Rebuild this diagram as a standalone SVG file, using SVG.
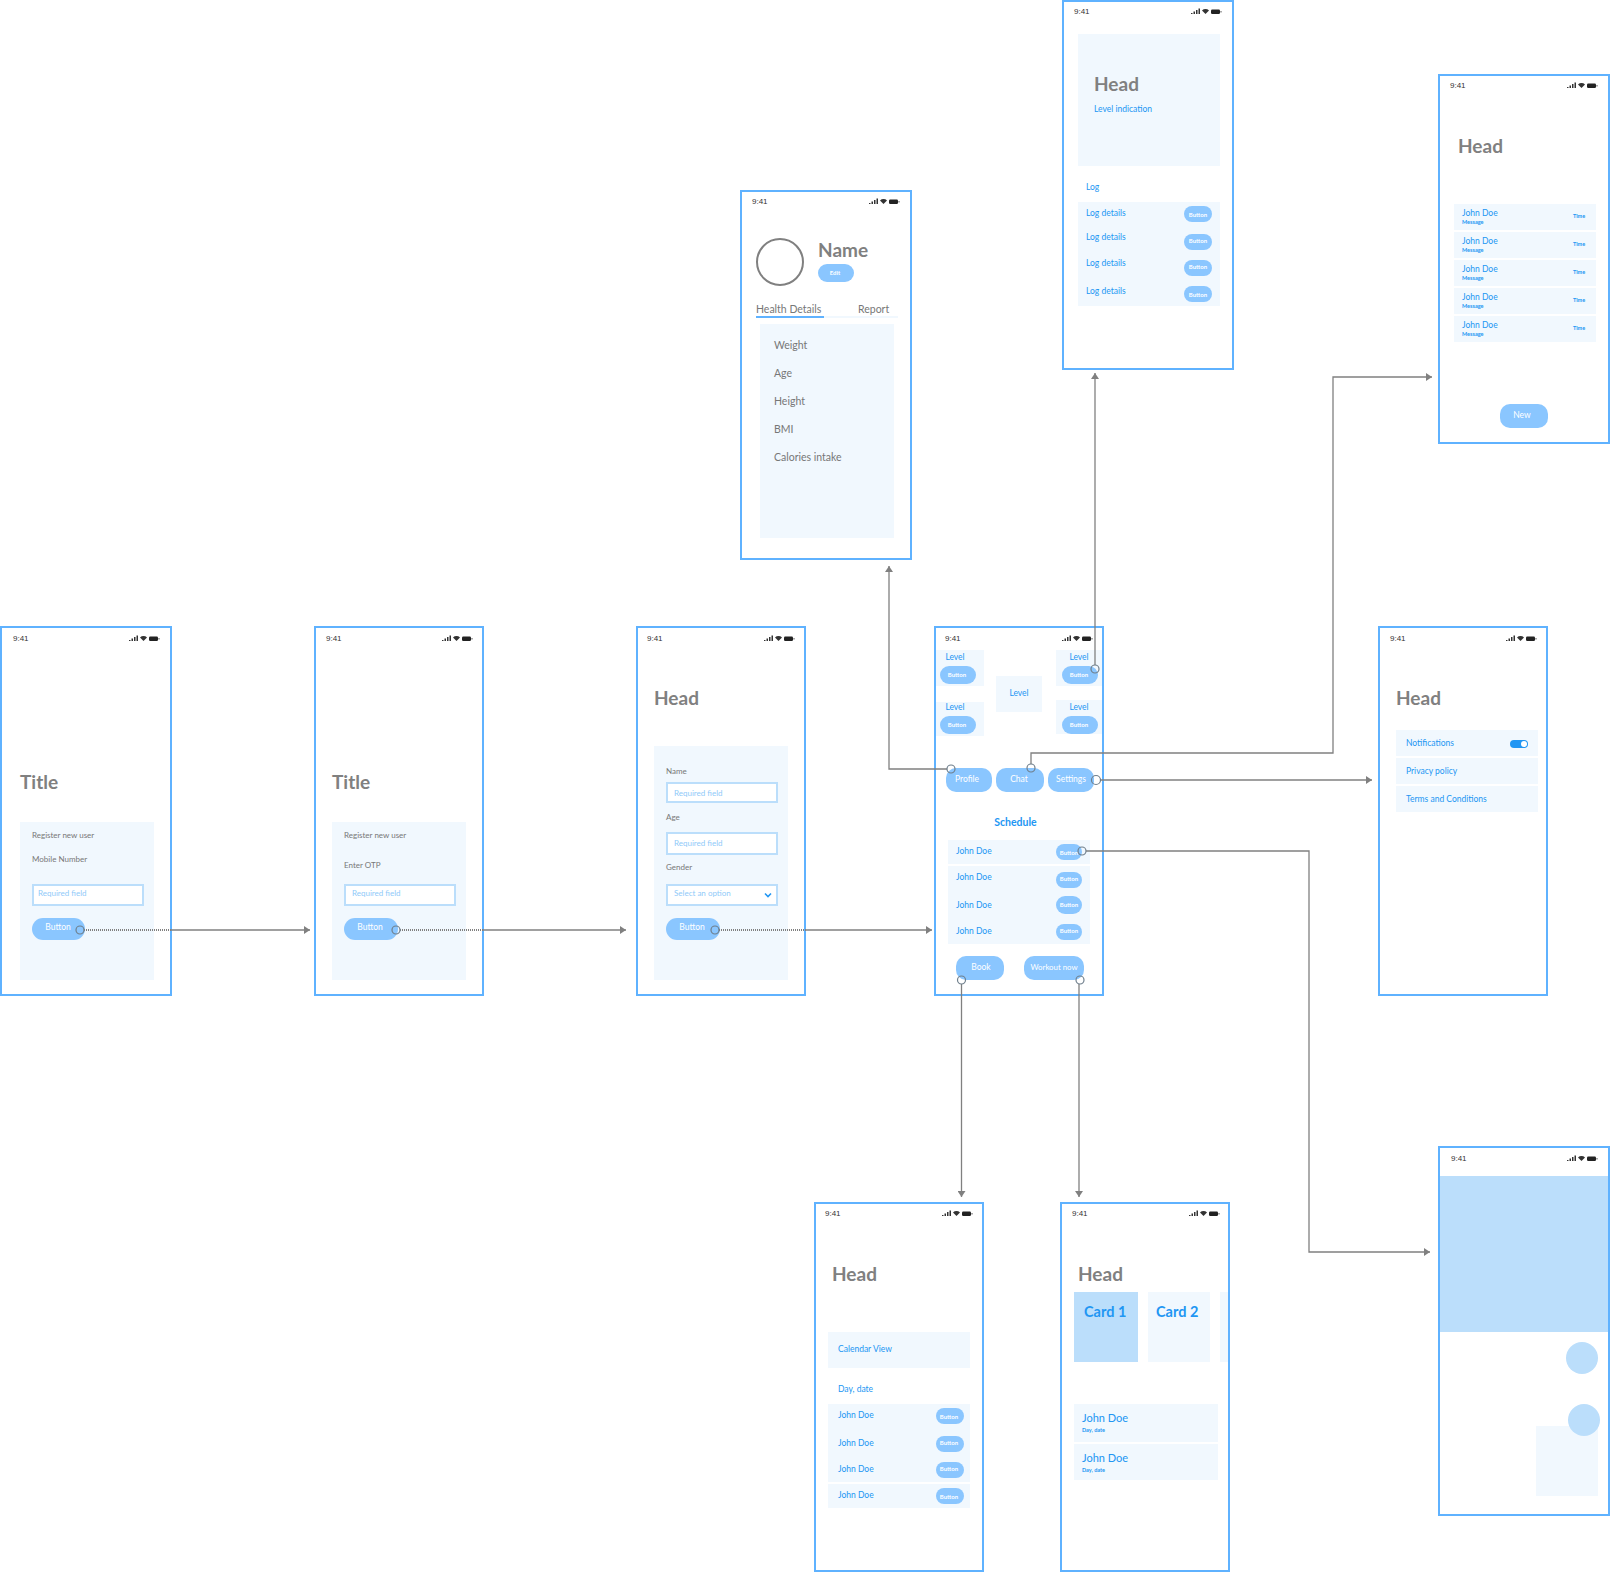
<svg xmlns="http://www.w3.org/2000/svg" xmlns:xlink="http://www.w3.org/1999/xlink" width="1610" height="1572" viewBox="0 0 1610 1572">
<style>
text{font-family:"Lato","Liberation Sans",sans-serif;dominant-baseline:central}
.frame{fill:#fff;stroke:#5fb2ff;stroke-width:2}
.panel{fill:#f1f8fe}
.light{fill:#bbdefb}
.field{fill:#fff;stroke:#bbdefb;stroke-width:2}
.btn{fill:#8ac6ff}
.time{font:400 8px "Liberation Sans",sans-serif;fill:#333;dominant-baseline:central}
.head{font-size:19px;font-weight:700;fill:#808080;dominant-baseline:alphabetic}
.lab{font-size:8px;fill:#777}
.lab10{font-size:10.5px;fill:#777}
.ph{font-size:8px;fill:#90caf9}
.b{font-size:8.5px;fill:#2196f3}
.j{font-size:11px;fill:#2196f3}
.card{font-size:14.500px;font-weight:700;fill:#2196f3;dominant-baseline:alphabetic}
.sm{font-size:5.5px;font-weight:700;fill:#2196f3}
.bt{font-size:6px;font-weight:700;fill:#fff;text-anchor:middle}
.bl{font-size:8.5px;fill:#fff;text-anchor:middle}
.m{text-anchor:middle}
.conn{fill:none;stroke:#808080;stroke-width:1.3}
.dash{fill:none;stroke:#808080;stroke-width:2;stroke-dasharray:1 1}
.dot{fill:none;stroke:#6f7f8c;stroke-width:1.2}
</style>
<defs>
<marker id="arrow" markerUnits="userSpaceOnUse" markerWidth="7" markerHeight="8" refX="6" refY="4" orient="auto"><path d="M0 0L6 4L0 8Z" fill="#808080"/></marker>
<g id="status">
<path d="M0 7h1.500v1H0zM2.500 5.500H4V8H2.500zM5 4h1.500v4H5zM7.500 2.500H9V8H7.500z" fill="#333"/>
<path d="M11 4.500a5 5 0 0 1 7 0L14.500 8Z" fill="#333"/>
<rect x="20" y="3.500" width="9" height="4.500" rx="1.200" fill="#222"/><rect x="29.500" y="5" width="1" height="1.500" fill="#555"/>
</g>
</defs>

<g id="screen-register">
<rect class="frame" x="1" y="627" width="170" height="368"/>
<text class="time" x="13" y="638">9:41</text><use href="#status" x="129" y="633"/>
<text class="head" x="20" y="789">Title</text>
<rect class="panel" x="20" y="822" width="134" height="158"/>
<text class="lab" x="32" y="835">Register new user</text>
<text class="lab" x="32" y="859">Mobile Number</text>
<rect class="field" x="33" y="885" width="110" height="20"/>
<text class="ph" x="38" y="893">Required field</text>
<rect class="btn" x="32" y="918" width="53" height="22" rx="11"/>
<text class="bl" x="58" y="927">Button</text>
</g>

<g id="screen-otp">
<rect class="frame" x="315" y="627" width="168" height="368"/>
<text class="time" x="326" y="638">9:41</text><use href="#status" x="442" y="633"/>
<text class="head" x="332" y="789">Title</text>
<rect class="panel" x="332" y="822" width="134" height="158"/>
<text class="lab" x="344" y="835">Register new user</text>
<text class="lab" x="344" y="865">Enter OTP</text>
<rect class="field" x="345" y="885" width="110" height="20"/>
<text class="ph" x="352" y="893">Required field</text>
<rect class="btn" x="344" y="918" width="54" height="22" rx="11"/>
<text class="bl" x="370" y="927">Button</text>
</g>

<g id="screen-details">
<rect class="frame" x="637" y="627" width="168" height="368"/>
<text class="time" x="647" y="638">9:41</text><use href="#status" x="764" y="633"/>
<text class="head" x="654" y="704.500">Head</text>
<rect class="panel" x="654" y="746" width="134" height="234"/>
<text class="lab" x="666" y="771">Name</text>
<rect class="field" x="667" y="783" width="110" height="19"/>
<text class="ph" x="674" y="793">Required field</text>
<text class="lab" x="666" y="817">Age</text>
<rect class="field" x="667" y="833" width="110" height="21"/>
<text class="ph" x="674" y="843">Required field</text>
<text class="lab" x="666" y="867">Gender</text>
<rect class="field" x="667" y="885" width="110" height="20"/>
<text class="ph" x="674" y="893">Select an option</text>
<path d="M765 893.500l3 3l3-3" fill="none" stroke="#2196f3" stroke-width="1.600"/>
<rect class="btn" x="666" y="918" width="54" height="22" rx="11"/>
<text class="bl" x="692" y="927">Button</text>
</g>

<g id="screen-home">
<rect class="frame" x="935" y="627" width="168" height="368"/>
<text class="time" x="945" y="638">9:41</text><use href="#status" x="1062" y="633"/>
<rect class="panel" x="936" y="650" width="48" height="36"/>
<text class="b m" x="955" y="657">Level</text>
<rect class="btn" x="940" y="666" width="36" height="18" rx="9"/>
<text class="bt" x="957" y="674">Button</text>
<rect class="panel" x="1056" y="650" width="46" height="36"/>
<text class="b m" x="1079" y="657">Level</text>
<rect class="btn" x="1062" y="666" width="36" height="18" rx="9"/>
<text class="bt" x="1079" y="674">Button</text>
<rect class="panel" x="996" y="676" width="46" height="36"/>
<text class="b m" x="1019" y="693">Level</text>
<rect class="panel" x="936" y="702" width="48" height="34"/>
<text class="b m" x="955" y="707">Level</text>
<rect class="btn" x="940" y="716" width="36" height="18" rx="9"/>
<text class="bt" x="957" y="724">Button</text>
<rect class="panel" x="1056" y="700" width="46" height="34"/>
<text class="b m" x="1079" y="707">Level</text>
<rect class="btn" x="1062" y="716" width="36" height="18" rx="9"/>
<text class="bt" x="1079" y="724">Button</text>
<rect class="btn" x="946" y="768" width="46" height="24" rx="10"/>
<text class="bl" x="967" y="779">Profile</text>
<rect class="btn" x="996" y="768" width="48" height="24" rx="10"/>
<text class="bl" x="1019" y="779">Chat</text>
<rect class="btn" x="1048" y="768" width="46" height="24" rx="10"/>
<text class="bl" x="1071" y="779">Settings</text>
<text class="m" x="1015.500" y="822" font-size="10.500" font-weight="700" fill="#2196f3">Schedule</text>
<rect class="panel" x="948" y="840" width="142" height="24"/>
<rect class="panel" x="948" y="866" width="142" height="78"/>
<text class="b" x="956" y="851">John Doe</text>
<text class="b" x="956" y="877">John Doe</text>
<text class="b" x="956" y="905">John Doe</text>
<text class="b" x="956" y="931">John Doe</text>
<rect class="btn" x="1056" y="844" width="26" height="16" rx="8"/><text class="bt" x="1069" y="852">Button</text>
<rect class="btn" x="1056" y="872" width="26" height="16" rx="8"/><text class="bt" x="1069" y="878">Button</text>
<rect class="btn" x="1056" y="896" width="26" height="18" rx="9"/><text class="bt" x="1069" y="904">Button</text>
<rect class="btn" x="1056" y="924" width="26" height="16" rx="8"/><text class="bt" x="1069" y="930">Button</text>
<rect class="btn" x="956" y="956" width="48" height="24" rx="10"/>
<text class="bl" x="981" y="967">Book</text>
<rect class="btn" x="1024" y="956" width="60" height="24" rx="10"/>
<text class="bl" x="1054" y="967" font-size="7.800" style="font-size:7.800px">Workout now</text>
</g>

<g id="screen-profile">
<rect class="frame" x="741" y="191" width="170" height="368"/>
<text class="time" x="752" y="201">9:41</text><use href="#status" x="869" y="196"/>
<circle cx="780" cy="262" r="23" fill="#fff" stroke="#808080" stroke-width="2"/>
<text class="head" x="818" y="257">Name</text>
<rect class="btn" x="818" y="264" width="36" height="18" rx="9"/>
<text class="bt" x="835" y="272">Edit</text>
<text class="lab10" x="756" y="309">Health Details</text>
<text class="lab10" x="858" y="309">Report</text>
<rect class="panel" x="824" y="316" width="74" height="2"/>
<rect x="756" y="316" width="68" height="2" fill="#5fb2ff"/>
<rect class="panel" x="760" y="324" width="134" height="214"/>
<text class="lab10" x="774" y="345">Weight</text>
<text class="lab10" x="774" y="373">Age</text>
<text class="lab10" x="774" y="401">Height</text>
<text class="lab10" x="774" y="429">BMI</text>
<text class="lab10" x="774" y="457">Calories intake</text>
</g>

<g id="screen-level">
<rect class="frame" x="1063" y="1" width="170" height="368"/>
<text class="time" x="1074" y="11">9:41</text><use href="#status" x="1191" y="6"/>
<rect class="panel" x="1078" y="34" width="142" height="132"/>
<text class="head" x="1094" y="91">Head</text>
<text class="b" x="1094" y="109">Level indication</text>
<text class="b" x="1086" y="187">Log</text>
<rect class="panel" x="1078" y="202" width="142" height="104"/>
<text class="b" x="1086" y="213">Log details</text>
<text class="b" x="1086" y="237">Log details</text>
<text class="b" x="1086" y="263">Log details</text>
<text class="b" x="1086" y="291">Log details</text>
<rect class="btn" x="1184" y="206" width="28" height="16" rx="8"/><text class="bt" x="1198" y="214">Button</text>
<rect class="btn" x="1184" y="234" width="28" height="16" rx="8"/><text class="bt" x="1198" y="240">Button</text>
<rect class="btn" x="1184" y="260" width="28" height="16" rx="8"/><text class="bt" x="1198" y="266">Button</text>
<rect class="btn" x="1184" y="286" width="28" height="16" rx="8"/><text class="bt" x="1198" y="294">Button</text>
</g>

<g id="screen-chat">
<rect class="frame" x="1439" y="75" width="170" height="368"/>
<text class="time" x="1450" y="85">9:41</text><use href="#status" x="1567" y="80"/>
<text class="head" x="1458" y="153">Head</text>
<rect class="panel" x="1454" y="204" width="142" height="26"/>
<rect class="panel" x="1454" y="232" width="142" height="26"/>
<rect class="panel" x="1454" y="260" width="142" height="26"/>
<rect class="panel" x="1454" y="288" width="142" height="26"/>
<rect class="panel" x="1454" y="316" width="142" height="26"/>
<text class="b" x="1462" y="213">John Doe</text><text class="sm" x="1462" y="222">Message</text><text class="sm m" x="1579" y="216">Time</text>
<text class="b" x="1462" y="241">John Doe</text><text class="sm" x="1462" y="250">Message</text><text class="sm m" x="1579" y="244">Time</text>
<text class="b" x="1462" y="269">John Doe</text><text class="sm" x="1462" y="278">Message</text><text class="sm m" x="1579" y="272">Time</text>
<text class="b" x="1462" y="297">John Doe</text><text class="sm" x="1462" y="306">Message</text><text class="sm m" x="1579" y="300">Time</text>
<text class="b" x="1462" y="325">John Doe</text><text class="sm" x="1462" y="334">Message</text><text class="sm m" x="1579" y="328">Time</text>
<rect class="btn" x="1500" y="404" width="48" height="24" rx="10"/>
<text class="bl" x="1522" y="415">New</text>
</g>

<g id="screen-settings">
<rect class="frame" x="1379" y="627" width="168" height="368"/>
<text class="time" x="1390" y="638">9:41</text><use href="#status" x="1506" y="633"/>
<text class="head" x="1396" y="704.500">Head</text>
<rect class="panel" x="1396" y="730" width="142" height="26"/>
<rect class="panel" x="1396" y="758" width="142" height="26"/>
<rect class="panel" x="1396" y="786" width="142" height="26"/>
<text class="b" x="1406" y="743">Notifications</text>
<text class="b" x="1406" y="771">Privacy policy</text>
<text class="b" x="1406" y="799">Terms and Conditions</text>
<rect x="1510" y="740" width="18" height="8" rx="4" fill="#2196f3"/>
<circle cx="1524" cy="744" r="3" fill="#fff"/>
</g>

<g id="screen-calendar">
<rect class="frame" x="815" y="1203" width="168" height="368"/>
<text class="time" x="825" y="1213">9:41</text><use href="#status" x="942" y="1208"/>
<text class="head" x="832" y="1281">Head</text>
<rect class="panel" x="828" y="1332" width="142" height="36"/>
<text class="b" x="838" y="1349">Calendar View</text>
<text class="b" x="838" y="1389">Day, date</text>
<rect class="panel" x="828" y="1404" width="142" height="78"/>
<rect class="panel" x="828" y="1484" width="142" height="24"/>
<text class="b" x="838" y="1415">John Doe</text>
<text class="b" x="838" y="1443">John Doe</text>
<text class="b" x="838" y="1469">John Doe</text>
<text class="b" x="838" y="1495">John Doe</text>
<rect class="btn" x="936" y="1408" width="28" height="16" rx="8"/><text class="bt" x="949" y="1416">Button</text>
<rect class="btn" x="936" y="1436" width="28" height="16" rx="8"/><text class="bt" x="949" y="1442">Button</text>
<rect class="btn" x="936" y="1462" width="28" height="16" rx="8"/><text class="bt" x="949" y="1468">Button</text>
<rect class="btn" x="936" y="1488" width="28" height="16" rx="8"/><text class="bt" x="949" y="1496">Button</text>
</g>

<g id="screen-workout">
<rect class="frame" x="1061" y="1203" width="168" height="368"/>
<text class="time" x="1072" y="1213">9:41</text><use href="#status" x="1189" y="1208"/>
<text class="head" x="1078" y="1281">Head</text>
<rect class="light" x="1074" y="1292" width="64" height="70"/>
<text class="card" x="1084" y="1316.500">Card 1</text>
<rect class="panel" x="1148" y="1292" width="62" height="70"/>
<text class="card" x="1156" y="1316.500">Card 2</text>
<rect class="panel" x="1220" y="1292" width="8" height="70"/>
<rect class="panel" x="1074" y="1404" width="144" height="38"/>
<text class="j" x="1082" y="1417">John Doe</text>
<text class="sm" x="1082" y="1429.500">Day, date</text>
<rect class="panel" x="1074" y="1444" width="144" height="36"/>
<text class="j" x="1082" y="1457">John Doe</text>
<text class="sm" x="1082" y="1469.500">Day, date</text>
</g>

<g id="screen-video">
<rect class="frame" x="1439" y="1147" width="170" height="368"/>
<text class="time" x="1451" y="1158">9:41</text><use href="#status" x="1567" y="1153"/>
<rect class="light" x="1440" y="1176" width="168" height="156"/>
<circle class="light" cx="1582" cy="1358" r="16"/>
<rect class="panel" x="1536" y="1426" width="62" height="70"/>
<circle class="light" cx="1584" cy="1420" r="16"/>
</g>

<g id="connectors">
<path class="dash" d="M84 930H171"/>
<path class="conn" d="M171 930H310" marker-end="url(#arrow)"/>
<path class="dash" d="M400 930H483"/>
<path class="conn" d="M483 930H626" marker-end="url(#arrow)"/>
<path class="dash" d="M719 930H806"/>
<path class="conn" d="M806 930H932" marker-end="url(#arrow)"/>
<path class="conn" d="M947 769H889V566" marker-end="url(#arrow)"/>
<path class="conn" d="M1095 665V373" marker-end="url(#arrow)"/>
<path class="conn" d="M1031 764V753H1333V377H1432" marker-end="url(#arrow)"/>
<path class="conn" d="M1100 780H1372" marker-end="url(#arrow)"/>
<path class="conn" d="M1086 851H1309V1252H1430" marker-end="url(#arrow)"/>
<path class="conn" d="M961.500 984V1197" marker-end="url(#arrow)"/>
<path class="conn" d="M1079 984V1197" marker-end="url(#arrow)"/>
<circle class="dot" cx="80" cy="930" r="4"/>
<circle class="dot" cx="396" cy="930" r="4"/>
<circle class="dot" cx="715" cy="930" r="4"/>
<circle class="dot" cx="951" cy="769" r="4"/>
<circle class="dot" cx="1095" cy="669" r="4"/>
<circle class="dot" cx="1031" cy="768" r="4"/>
<circle class="dot" cx="1096" cy="780" r="4.500"/>
<circle class="dot" cx="1082" cy="851" r="4"/>
<circle class="dot" cx="961.500" cy="980" r="4"/>
<circle class="dot" cx="1080" cy="980" r="4"/>
</g>
</svg>
